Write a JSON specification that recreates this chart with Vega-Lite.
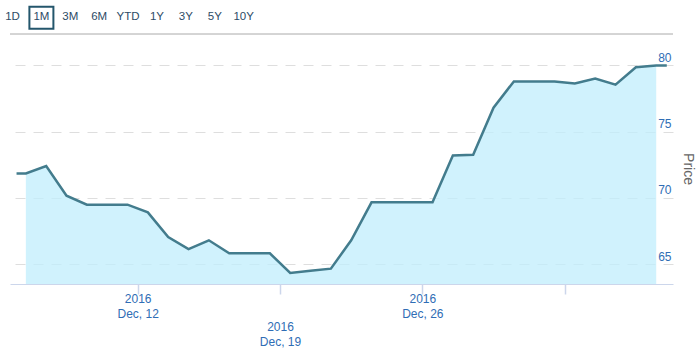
{
  "$schema": "https://vega.github.io/schema/vega-lite/v6.json",
  "padding": {"left": 0, "top": 0, "right": 6, "bottom": 0},
  "spacing": 0,
  "config": {
    "view": {"stroke": null},
    "font": "Liberation Sans",
    "axis": {"labelFont": "Liberation Sans", "titleFont": "Liberation Sans"}
  },
  "datasets": {
    "buttons": [
      {"label": "1D", "selected": false},
      {"label": "1M", "selected": true},
      {"label": "3M", "selected": false},
      {"label": "6M", "selected": false},
      {"label": "YTD", "selected": false},
      {"label": "1Y", "selected": false},
      {"label": "3Y", "selected": false},
      {"label": "5Y", "selected": false},
      {"label": "10Y", "selected": false}
    ],
    "prices": [
      {"date": "2016-12-06T01:00:00", "price": 71.84, "area": null},
      {"date": "2016-12-06T12:00:00", "price": 71.84, "area": 71.84},
      {"date": "2016-12-07T12:00:00", "price": 72.40, "area": 72.40},
      {"date": "2016-12-08T12:00:00", "price": 70.16, "area": 70.16},
      {"date": "2016-12-09T12:00:00", "price": 69.48, "area": 69.48},
      {"date": "2016-12-10T12:00:00", "price": 69.48, "area": 69.48},
      {"date": "2016-12-11T12:00:00", "price": 69.48, "area": 69.48},
      {"date": "2016-12-12T12:00:00", "price": 68.90, "area": 68.90},
      {"date": "2016-12-13T12:00:00", "price": 67.03, "area": 67.03},
      {"date": "2016-12-14T12:00:00", "price": 66.13, "area": 66.13},
      {"date": "2016-12-15T12:00:00", "price": 66.79, "area": 66.79},
      {"date": "2016-12-16T12:00:00", "price": 65.81, "area": 65.81},
      {"date": "2016-12-17T12:00:00", "price": 65.81, "area": 65.81},
      {"date": "2016-12-18T12:00:00", "price": 65.81, "area": 65.81},
      {"date": "2016-12-19T12:00:00", "price": 64.32, "area": 64.32},
      {"date": "2016-12-20T12:00:00", "price": 64.49, "area": 64.49},
      {"date": "2016-12-21T12:00:00", "price": 64.65, "area": 64.65},
      {"date": "2016-12-22T12:00:00", "price": 66.79, "area": 66.79},
      {"date": "2016-12-23T12:00:00", "price": 69.66, "area": 69.66},
      {"date": "2016-12-24T12:00:00", "price": 69.66, "area": 69.66},
      {"date": "2016-12-25T12:00:00", "price": 69.66, "area": 69.66},
      {"date": "2016-12-26T12:00:00", "price": 69.66, "area": 69.66},
      {"date": "2016-12-27T12:00:00", "price": 73.20, "area": 73.20},
      {"date": "2016-12-28T12:00:00", "price": 73.25, "area": 73.25},
      {"date": "2016-12-29T12:00:00", "price": 76.80, "area": 76.80},
      {"date": "2016-12-30T12:00:00", "price": 78.79, "area": 78.79},
      {"date": "2016-12-31T12:00:00", "price": 78.79, "area": 78.79},
      {"date": "2017-01-01T12:00:00", "price": 78.79, "area": 78.79},
      {"date": "2017-01-02T12:00:00", "price": 78.64, "area": 78.64},
      {"date": "2017-01-03T12:00:00", "price": 79.00, "area": 79.00},
      {"date": "2017-01-04T12:00:00", "price": 78.54, "area": 78.54},
      {"date": "2017-01-05T12:00:00", "price": 79.86, "area": 79.86},
      {"date": "2017-01-06T12:00:00", "price": 80.00, "area": 80.00},
      {"date": "2017-01-07T00:30:00", "price": 80.00, "area": null}
    ]
  },
  "vconcat": [
    {
      "width": 231.2,
      "height": 28,
      "data": {"name": "buttons"},
      "layer": [
        {
          "mark": {"type": "text", "dx": 2.5, "dy": 6, "baseline": "alphabetic", "fontSize": 11.5, "color": "#2d4b66"},
          "encoding": {
            "x": {"field": "label", "type": "nominal", "sort": null, "scale": {"type": "point", "padding": 0}, "axis": null},
            "text": {"field": "label"}
          }
        },
        {
          "mark": {"type": "point", "shape": "M-1.0909,-1H1.0909V1H-1.0909Z", "size": 484, "filled": false, "stroke": "#24566c", "strokeWidth": 2, "opacity": 1},
          "encoding": {
            "x": {"field": "label", "type": "nominal", "sort": null, "scale": {"type": "point", "padding": 0}, "axis": null},
            "xOffset": {"value": 2.5},
            "yOffset": {"value": 3.75},
            "strokeOpacity": {"condition": {"test": "datum.selected", "value": 1}, "value": 0}
          }
        }
      ]
    },
    {
      "width": 663,
      "height": 250,
      "data": {"name": "prices"},
      "resolve": {"axis": {"x": "independent", "y": "independent"}},
      "layer": [
        {
          "mark": {"type": "area", "color": "#c0eefc", "fillOpacity": 0.75},
          "encoding": {
            "x": {
              "field": "date", "type": "temporal",
              "scale": {"domain": [{"year": 2016, "month": 12, "date": 5, "hours": 17, "minutes": 17}, {"year": 2017, "month": 1, "date": 7, "hours": 7, "minutes": 50}]},
              "axis": {
                "orient": "bottom",
                "values": [{"year": 2016, "month": 12, "date": 12}, {"year": 2016, "month": 12, "date": 19}, {"year": 2016, "month": 12, "date": 26}, {"year": 2017, "month": 1, "date": 2}],
                "title": null, "grid": false,
                "domainColor": "#ccd6eb", "domainWidth": 1,
                "tickColor": "#ccd6eb", "tickSize": 10, "tickWidth": 1.5,
                "labelExpr": "date(datum.value) == 12 || date(datum.value) == 26 ? [timeFormat(datum.value, '%Y'), timeFormat(datum.value, '%b, %d')] : ''",
                "labelColor": "#2f6db5", "labelFontSize": 12, "labelPadding": -1, "labelLineHeight": 15.5,
                "labelOverlap": false, "labelFlush": false, "labelBound": false
              }
            },
            "y": {
              "field": "area", "type": "quantitative",
              "scale": {"domain": [63.49, 82.37], "nice": false, "zero": false},
              "axis": {
                "orient": "right", "values": [65, 70, 75, 80], "title": "Price",
                "grid": true, "gridColor": "#dedede", "gridDash": [10, 8],
                "domain": false, "ticks": false,
                "labelAlign": "right", "labelBaseline": "alphabetic", "labelPadding": -2, "labelOffset": -4,
                "labelColor": "#2f6db5", "labelFontSize": 12, "labelFlush": false,
                "titleColor": "#666666", "titleFontSize": 14, "titleFontWeight": "normal",
                "titleAngle": 90, "titleBaseline": "alphabetic", "titleAlign": "center", "titleX": 10, "titleY": 134.5
              }
            },
            "y2": {"datum": 63.49}
          }
        },
        {
          "mark": {"type": "line", "color": "#437c8d", "strokeWidth": 2.5},
          "encoding": {
            "x": {
              "field": "date", "type": "temporal",
              "scale": {"domain": [{"year": 2016, "month": 12, "date": 5, "hours": 17, "minutes": 17}, {"year": 2017, "month": 1, "date": 7, "hours": 7, "minutes": 50}]},
              "axis": {
                "orient": "bottom",
                "values": [{"year": 2016, "month": 12, "date": 19}],
                "title": null, "grid": false, "domain": false, "ticks": false,
                "labelExpr": "[timeFormat(datum.value, '%Y'), timeFormat(datum.value, '%b, %d')]",
                "labelColor": "#2f6db5", "labelFontSize": 12, "labelPadding": 37, "labelLineHeight": 15.5,
                "labelOverlap": false, "labelFlush": false, "labelBound": false
              }
            },
            "y": {"field": "price", "type": "quantitative", "scale": {"domain": [63.49, 82.37], "nice": false, "zero": false}, "axis": null}
          }
        },
        {
          "mark": {"type": "rule", "color": "#d4d4d4"},
          "encoding": {
            "y": {
              "datum": 82.37, "type": "quantitative",
              "axis": {"orient": "left", "labels": false, "ticks": false, "domain": false, "grid": false, "title": null, "minExtent": 10, "maxExtent": 10}
            }
          }
        }
      ]
    }
  ]
}
